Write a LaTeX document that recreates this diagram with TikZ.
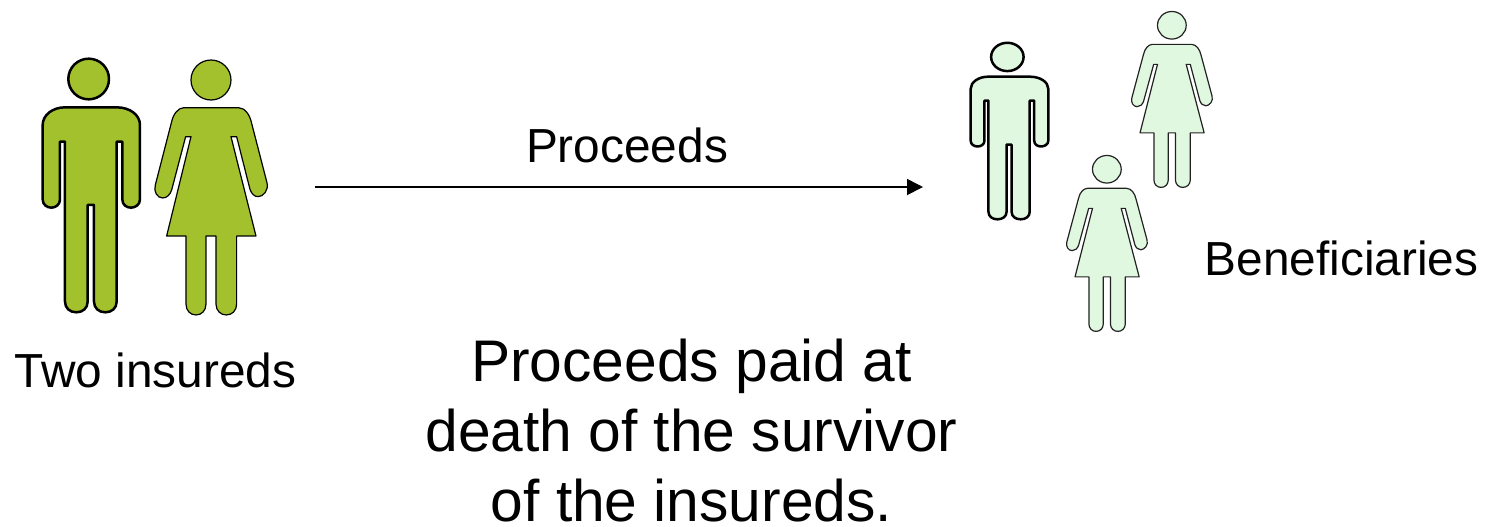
\documentclass[tikz,border=0pt]{standalone}
\usepackage{fontspec}
\setmainfont{Liberation Sans}
\usetikzlibrary{arrows.meta}
\definecolor{olivegreen}{HTML}{A2C12C}
\definecolor{palegreen}{HTML}{E0F7E0}
\definecolor{softblack}{HTML}{222222}
\newcommand{\manpath}{
  (135,202) -- (290,202) .. controls (330,202) and (360,225) .. (360,255) -- (360,478)
  .. controls (360,495) and (345,503) .. (333,503) .. controls (320,503) and (307,495) .. (307,478)
  -- (307,305) -- (290,305) -- (290,785)
  .. controls (290,805) and (275,817) .. (256,817) .. controls (237,817) and (222,805) .. (222,785)
  -- (222,495) -- (203,495) -- (203,785)
  .. controls (203,805) and (188,817) .. (169,817) .. controls (150,817) and (135,805) .. (135,785)
  -- (135,305) -- (120,305) -- (120,478)
  .. controls (120,495) and (106,503) .. (94,503) .. controls (82,503) and (68,495) .. (68,478)
  -- (68,255) .. controls (68,225) and (98,202) .. (135,202) -- cycle
  (206,117) circle [radius=61]
}
\newcommand{\womanpath}{
  (492,203) -- (655,203) .. controls (675,203) and (690,225) .. (695,250) -- (741,428)
  .. controls (747,450) and (730,470) .. (715,470) .. controls (703,470) and (695,462) .. (690,448)
  -- (650,290) -- (633,290) -- (708,588) -- (650,588) -- (650,792)
  .. controls (650,812) and (636,825) .. (619,825) .. controls (602,825) and (588,812) .. (588,792)
  -- (588,588) -- (558,588) -- (558,792)
  .. controls (558,812) and (545,825) .. (528,825) .. controls (511,825) and (498,812) .. (498,792)
  -- (498,588) -- (440,588) -- (513,290) -- (497,290) -- (455,450)
  .. controls (450,465) and (440,474) .. (428,474) .. controls (412,474) and (400,455) .. (406,435)
  -- (455,245) .. controls (460,222) and (475,203) .. (492,203) -- cycle
  (573,120) circle [radius=60]
}
\tikzset{
  x=0.5pt,y=-0.5pt,
  boldman/.style={draw=black,line width=1.25pt,line join=round},
  thinwoman/.style={draw=softblack,line width=0.6pt,line join=round},
  label/.style={font=\fontsize{23.9}{28}\selectfont,inner sep=0pt},
  bigtext/.style={font=\fontsize{29.35}{35}\selectfont,inner sep=0pt,align=center},
  flow/.style={-{Stealth[length=8pt,width=8pt,inset=0pt]},line width=0.8pt,black}
}
\begin{document}
\begin{tikzpicture}
\useasboundingbox (0,0) rectangle (1488,526);
% two insureds
\begin{scope}[shift={(20,40)},xscale=0.3333,yscale=0.3333]
  \path[boldman,fill=olivegreen] \manpath;
  \path[thinwoman,draw=black,fill=olivegreen] \womanpath;
\end{scope}
% beneficiaries: man
\begin{scope}[shift={(950,0)},xscale=0.3333,yscale=0.3333]
  \begin{scope}[shift={(7.7,89.4)},xscale=0.798,yscale=0.696]
    \path[boldman,fill=palegreen] \manpath;
  \end{scope}
  % woman, upper
  \begin{scope}[shift={(254.2,-7)},xscale=0.718,yscale=0.69]
    \path[thinwoman,fill=palegreen] \womanpath;
  \end{scope}
  % woman, lower
  \begin{scope}[shift={(59.2,425)},xscale=0.718,yscale=0.69]
    \path[thinwoman,fill=palegreen] \womanpath;
  \end{scope}
\end{scope}
\node[label,anchor=base] (insureds) at (155.5,387) {Two insureds};
\node[label,anchor=base] (flowlabel) at (627,162) {Proceeds};
\node[label,anchor=base] (benef) at (1341.5,275) {Beneficiaries};
\node[bigtext,anchor=base] (caption) at (691.5,521) {Proceeds paid at\\death of the survivor\\of the insureds.};
\coordinate (flowstart) at (315,187);
\coordinate (flowend) at (923,187);
\draw[flow] (flowstart) -- (flowend);
\end{tikzpicture}
\end{document}
